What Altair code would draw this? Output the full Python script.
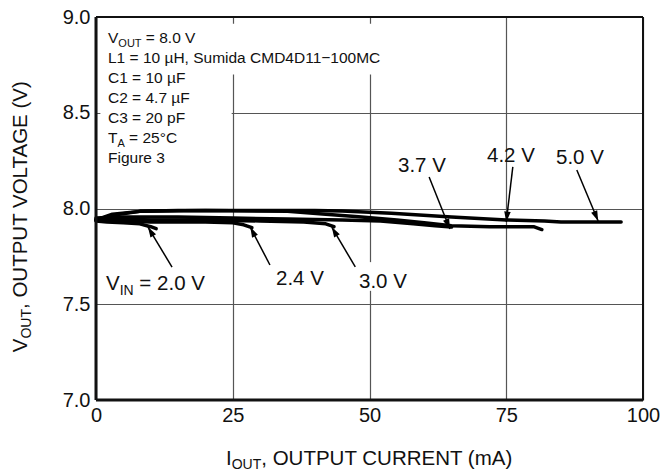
import math
import altair as alt
import pandas as pd

# ---------------- data ----------------
series_names = ["2.0 V", "2.4 V", "3.0 V", "3.7 V", "4.2 V", "5.0 V"]
iout_20 = [0, 2, 5, 8, 10, 11]
vout_20 = [7.935, 7.93, 7.925, 7.92, 7.905, 7.895]
iout_24 = [0, 5, 10, 15, 20, 25, 27, 28.5]
vout_24 = [7.94, 7.935, 7.93, 7.93, 7.93, 7.925, 7.915, 7.9]
iout_30 = [0, 5, 10, 20, 30, 38, 42, 43.5]
vout_30 = [7.94, 7.945, 7.94, 7.94, 7.935, 7.93, 7.92, 7.905]
iout_37 = [0, 5, 15, 25, 35, 45, 52, 58, 62, 65]
vout_37 = [7.95, 7.955, 7.955, 7.95, 7.945, 7.94, 7.935, 7.92, 7.91, 7.903]
iout_42 = [0, 3, 8, 20, 35, 42, 48, 55, 60, 65, 72, 80, 81.5]
vout_42 = [7.94, 7.965, 7.985, 7.99, 7.985, 7.97, 7.957, 7.94, 7.925, 7.91, 7.905, 7.905, 7.89]
iout_50 = [0, 3, 8, 15, 30, 40, 45, 54, 65, 75, 82, 85, 96]
vout_50 = [7.94, 7.97, 7.985, 7.99, 7.99, 7.99, 7.987, 7.975, 7.955, 7.94, 7.935, 7.93, 7.93]

x_ticks = [0, 25, 50, 75, 100]
y_ticks = [7.0, 7.5, 8.0, 8.5, 9.0]

# annotation arrows: label, tail (x,y), head (x,y)
arrow_labels = ["2.0 V", "2.4 V", "3.0 V", "3.7 V", "4.2 V", "5.0 V"]
arrow_tail_x = [13.9, 31.8, 47.4, 60.9, 76.2, 87.9]
arrow_tail_y = [7.694, 7.705, 7.695, 8.164, 8.217, 8.201]
arrow_head_x = [9.5, 28.2, 43.1, 64.7, 75.0, 91.8]
arrow_head_y = [7.903, 7.903, 7.903, 7.893, 7.930, 7.935]

box_lines = ["L1 = 10 \u00b5H, Sumida CMD4D11\u2212100MC", "C1 = 10 \u00b5F",
             "C2 = 4.7 \u00b5F", "C3 = 20 pF"]

# ---------------- layout helpers ----------------
W, H = 547, 383
PL, PT = 96, 17
FONT = "Liberation Sans"
AW = {' ': 278, ',': 278, '.': 278, '=': 584, '(': 333, ')': 333, '\u2212': 584,
      '\u00b0': 400, '\u00b5': 576, 'A': 667, 'C': 722, 'D': 722, 'E': 667, 'F': 611,
      'G': 778, 'H': 722, 'I': 278, 'L': 556, 'M': 833, 'N': 722, 'O': 778, 'P': 667,
      'R': 722, 'S': 667, 'T': 611, 'U': 722, 'V': 667, 'a': 556, 'd': 556, 'e': 556,
      'g': 556, 'i': 222, 'm': 833, 'p': 556, 'r': 333, 'u': 556}


def tw(s, size):
    return sum(AW.get(c, 556) for c in s) / 1000.0 * size


def sx(v):
    return v / 100.0 * W


def sy(v):
    return (9.0 - v) / 2.0 * H


xs = alt.Scale(domain=[0, 100], nice=False, zero=False)
ys = alt.Scale(domain=[7.0, 9.0], nice=False, zero=False)

# ---------------- curves ----------------
rows = []
for name, xx, yy in zip(series_names,
                        [iout_20, iout_24, iout_30, iout_37, iout_42, iout_50],
                        [vout_20, vout_24, vout_30, vout_37, vout_42, vout_50]):
    for i, (a, b) in enumerate(zip(xx, yy)):
        rows.append({"series": name, "i": a, "v": b, "o": i})
curves = pd.DataFrame(rows)

base_axes = alt.Chart(pd.DataFrame({"i": [0], "v": [7.0]})).mark_point(opacity=0).encode(
    x=alt.X("i:Q", scale=xs, axis=alt.Axis(
        values=x_ticks, title=None, grid=True, gridColor="#555", gridWidth=1.2,
        ticks=False, domain=False, labelFont=FONT, labelFontSize=20,
        labelColor="#111", labelPadding=5, labelFlush=False, format="d")),
    y=alt.Y("v:Q", scale=ys, axis=alt.Axis(
        values=y_ticks, title=None, grid=True, gridColor="#555", gridWidth=1.2,
        ticks=False, domain=False, labelFont=FONT, labelFontSize=20,
        labelColor="#111", labelPadding=6, format=".1f")),
)

# white boxes hiding grid behind the condition text and the "3.0 V" label
box_df = pd.DataFrame({"x1": [0.8, 24.0, 49.0], "x2": [24.8, 53.0, 51.0],
                       "y1": [8.3, 8.70, 7.57], "y2": [8.985, 8.965, 7.72]})
boxes = alt.Chart(box_df).mark_rect(color="white").encode(
    x=alt.X("x1:Q", scale=xs), x2="x2:Q", y=alt.Y("y1:Q", scale=ys), y2="y2:Q")

lines = alt.Chart(curves).mark_line(color="black", strokeWidth=3.5,
                                    strokeJoin="round", strokeCap="round").encode(
    x=alt.X("i:Q", scale=xs), y=alt.Y("v:Q", scale=ys),
    detail="series:N", order="o:Q")

# frame lines (left & bottom thick, top & right thinner)
frame_df = pd.DataFrame({"x1": [0, 0, 0, 100], "x2": [0, 100, 100, 100],
                         "y1": [7.0, 7.0, 9.0, 7.0], "y2": [9.0, 7.0, 9.0, 9.0],
                         "w": [3.0, 3.0, 2.0, 2.0]})
frame = alt.Chart(frame_df).mark_rule(color="#111").encode(
    x=alt.X("x1:Q", scale=xs), x2="x2:Q", y=alt.Y("y1:Q", scale=ys), y2="y2:Q",
    strokeWidth=alt.StrokeWidth("w:Q", scale=None))

# arrows
arr = pd.DataFrame({"tx": arrow_tail_x, "ty": arrow_tail_y,
                    "hx": arrow_head_x, "hy": arrow_head_y})
angles = []
for tx, ty, hx, hy in zip(arrow_tail_x, arrow_tail_y, arrow_head_x, arrow_head_y):
    dx = sx(hx) - sx(tx)
    dy = sy(hy) - sy(ty)
    angles.append(math.degrees(math.atan2(dx, -dy)) % 360)
arr["ang"] = angles
shafts = alt.Chart(arr).mark_rule(color="black", strokeWidth=1.5).encode(
    x=alt.X("tx:Q", scale=xs), y=alt.Y("ty:Q", scale=ys), x2="hx:Q", y2="hy:Q")
heads = alt.Chart(arr).mark_point(shape="M0,0L0.32,1L-0.32,1Z", filled=True,
                                  color="black", opacity=1, size=420,
                                  strokeWidth=0).encode(
    x=alt.X("hx:Q", scale=xs), y=alt.Y("hy:Q", scale=ys),
    angle=alt.Angle("ang:Q", scale=None))

# ---------------- text pieces (screen px positions relative to plot) ----------------
pieces = []  # dicts: text, x, y, size, angle


def add(text, x, y, size, angle=0):
    pieces.append({"t": text, "x": x, "y": y, "s": size, "a": angle})


# condition box
BF, BS = 15.5, 11
bx = 108 - PL
by0 = 43 - PT
step = 20.0
add("V", bx, by0, BF)
add("OUT", bx + tw("V", BF), by0 + 3.5, BS)
add("= 8.0 V", bx + tw("V", BF) + tw("OUT", BS) + tw(" ", BF), by0, BF)
for k, ln in enumerate(box_lines):
    add(ln, bx, by0 + step * (k + 1), BF)
yT = by0 + step * 5
add("T", bx, yT, BF)
add("A", bx + tw("T", BF), yT + 3.5, BS)
add("= 25\u00b0C", bx + tw("T", BF) + tw("A", BS) + tw(" ", BF), yT, BF)
add("Figure 3", bx, by0 + step * 6, BF)

# curve labels
LF = 20.5
label_left = [106, 276, 359, 398, 487, 556]
label_base = [290, 285, 288, 172, 162, 164]
for lab, lx, lb in zip(arrow_labels, label_left, label_base):
    x0 = lx - PL
    y0 = lb - PT
    if lab == "2.0 V":
        add("V", x0, y0, LF)
        add("IN", x0 + tw("V", LF), y0 + 5, 14)
        add("= " + lab, x0 + tw("V", LF) + tw("IN", 14) + tw(" ", LF), y0, LF)
    else:
        add(lab, x0, y0, LF)

# x title
TF, TS = 20.5, 14
xt_total = tw("I", TF) + tw("OUT", TS) + tw(", OUTPUT CURRENT (mA)", TF)
xt0 = PL + W / 2 - xt_total / 2 - PL
xb = 465 - PT
add("I", xt0, xb, TF)
add("OUT", xt0 + tw("I", TF), xb + 4, TS)
add(", OUTPUT CURRENT (mA)", xt0 + tw("I", TF) + tw("OUT", TS), xb, TF)

# y title (rotated, reads bottom to top)
yt_total = tw("V", TF) + tw("OUT", TS) + tw(", OUTPUT VOLTAGE (V)", TF)
yc = 215 - PT
ybot = yc + yt_total / 2
xbase = 27 - PL
add("V", xbase, ybot, TF, 270)
add("OUT", xbase + 4, ybot - tw("V", TF), TS, 270)
add(", OUTPUT VOLTAGE (V)", xbase, ybot - tw("V", TF) - tw("OUT", TS), TF, 270)

texts = []
for p in pieces:
    texts.append(alt.Chart(pd.DataFrame({"t": [p["t"]]})).mark_text(
        align="left", baseline="alphabetic", font=FONT, fontSize=p["s"],
        color="#111", angle=p["a"]).encode(
        text="t:N", x=alt.value(p["x"]), y=alt.value(p["y"])))

chart = alt.layer(base_axes, boxes, lines, frame, shafts, heads, *texts).properties(
    width=W, height=H,
    autosize=alt.AutoSizeParams(type="none"),
    padding={"left": PL, "top": PT, "right": 663 - PL - W, "bottom": 472 - PT - H},
).configure_view(stroke=None).configure(background="white")

chart.save("out.html", embed_options={"renderer": "svg", "actions": False})
